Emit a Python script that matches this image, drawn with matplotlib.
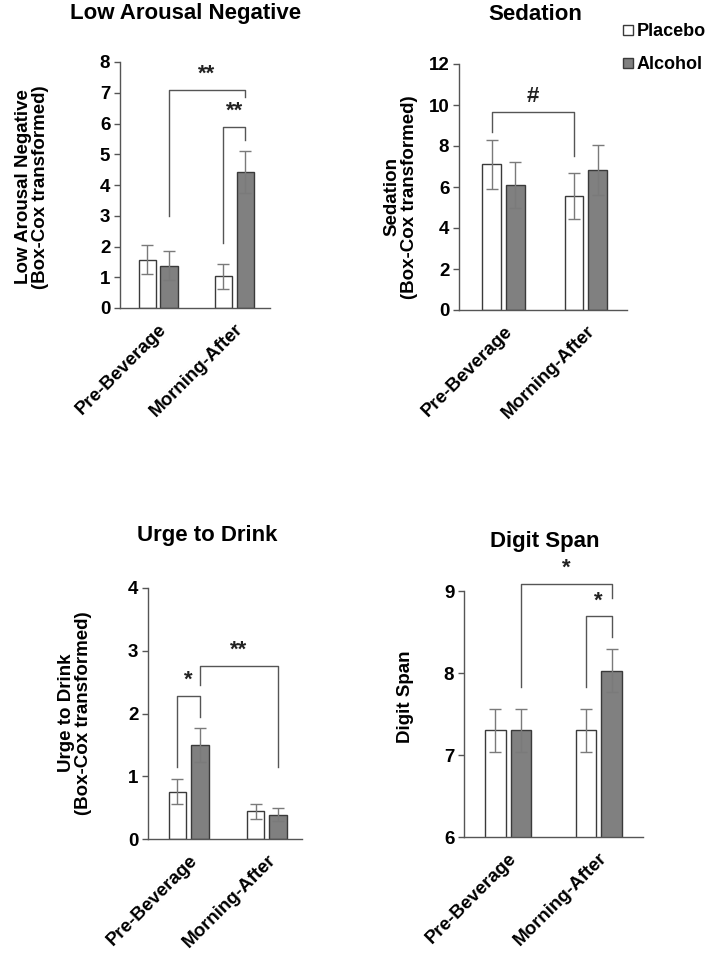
import matplotlib
matplotlib.use("Agg")
import matplotlib.pyplot as plt
from matplotlib.lines import Line2D

plt.rcParams["font.family"] = ["Liberation Sans", "DejaVu Sans"]
plt.rcParams["font.weight"] = "bold"

groups = ["Pre-Beverage", "Morning-After"]
series_names = ["Placebo", "Alcohol"]

lan_placebo = [1.57, 1.03]
lan_placebo_err = [0.47, 0.40]
lan_alcohol = [1.37, 4.42]
lan_alcohol_err = [0.47, 0.68]

sed_placebo = [7.10, 5.55]
sed_placebo_err = [1.18, 1.12]
sed_alcohol = [6.10, 6.85]
sed_alcohol_err = [1.10, 1.22]

urge_placebo = [0.75, 0.44]
urge_placebo_err = [0.20, 0.12]
urge_alcohol = [1.50, 0.39]
urge_alcohol_err = [0.27, 0.10]

ds_placebo = [7.30, 7.30]
ds_placebo_err = [0.26, 0.26]
ds_alcohol = [7.30, 8.03]
ds_alcohol_err = [0.26, 0.26]

# brackets: (group, series) left, (group, series) right, height, left leg end, right leg end, label
lan_brackets = [((0, 1), (1, 1), 7.1, 3.0, 6.85, "**"),
                ((1, 0), (1, 1), 5.9, 2.1, 5.45, "**")]
sed_brackets = [((0, 0), (1, 0), 9.65, 8.7, 7.5, "#")]
urge_brackets = [((0, 0), (0, 1), 2.28, 1.15, 1.95, "*"),
                 ((0, 1), (1, 1), 2.76, 2.45, 1.15, "**")]
ds_brackets = [((0, 1), (1, 1), 9.09, 7.83, 8.92, "*"),
               ((1, 0), (1, 1), 8.69, 7.83, 8.44, "*")]

panels = {
    "Low Arousal Negative": {"data": (lan_placebo, lan_placebo_err, lan_alcohol, lan_alcohol_err),
                             "brackets": lan_brackets,
                             "ylabel": "Low Arousal Negative\n(Box-Cox transformed)",
                             "ylim": (0, 8), "yticks": range(0, 9, 1),
                             "xlim": (-0.5, 1.47),
                             "rect": [120, 62, 270, 308],
                             "title xy": (186, 13), "ylabel xy": (32, 187)},
    "Sedation": {"data": (sed_placebo, sed_placebo_err, sed_alcohol, sed_alcohol_err),
                 "brackets": sed_brackets,
                 "ylabel": "Sedation\n(Box-Cox transformed)",
                 "ylim": (0, 12), "yticks": range(0, 13, 2),
                 "xlim": (-0.54, 1.5),
                 "rect": [459, 64, 627, 310],
                 "title xy": (535, 15), "ylabel xy": (401, 197)},
    "Urge to Drink": {"data": (urge_placebo, urge_placebo_err, urge_alcohol, urge_alcohol_err),
                      "brackets": urge_brackets,
                      "ylabel": "Urge to Drink\n(Box-Cox transformed)",
                      "ylim": (0, 4), "yticks": range(0, 5, 1),
                      "xlim": (-0.52, 1.45),
                      "rect": [148, 588, 302, 839],
                      "title xy": (207, 535), "ylabel xy": (75, 713)},
    "Digit Span": {"data": (ds_placebo, ds_placebo_err, ds_alcohol, ds_alcohol_err),
                   "brackets": ds_brackets,
                   "ylabel": "Digit Span",
                   "ylim": (6, 9), "yticks": range(6, 10, 1),
                   "xlim": (-0.49, 1.49),
                   "rect": [464, 591, 643, 837],
                   "title xy": (545, 541), "ylabel xy": (405, 697)},
}

W, H = 709, 957
bar_width = 0.225
offset = 0.143
edge = "#3a3a3a"
err_color = "#7a7a7a"
line_color = "#555555"
colors = ["white", "#808080"]

fig = plt.figure(figsize=(W / 100, H / 100), dpi=100)

for title, p in panels.items():
    x0, y0, x1, y1 = p["rect"]
    ax = fig.add_axes([x0 / W, 1 - y1 / H, (x1 - x0) / W, (y1 - y0) / H])
    placebo, placebo_err, alcohol, alcohol_err = p["data"]
    xs = range(len(groups))
    for k, (vals, errs) in enumerate([(placebo, placebo_err), (alcohol, alcohol_err)]):
        pos = [x + (2 * k - 1) * offset for x in xs]
        ax.bar(pos, vals, bar_width, bottom=0, color=colors[k], edgecolor=edge,
               linewidth=1.0, label=series_names[k], zorder=2)
        ax.errorbar(pos, vals, yerr=errs, fmt="none", ecolor=err_color,
                    elinewidth=1.0, capsize=4, capthick=1.0, zorder=3)
    for (g0, s0), (g1, s1), h, l0, l1, label in p["brackets"]:
        xa = g0 + (2 * s0 - 1) * offset
        xb = g1 + (2 * s1 - 1) * offset
        ax.plot([xa, xa, xb, xb], [l0, h, h, l1], color=line_color,
                linewidth=1.0, clip_on=False, zorder=4)
        span = p["ylim"][1] - p["ylim"][0]
        ax.text((xa + xb) / 2, h + 0.02 * span, label, ha="center",
                va="bottom", fontsize=16, fontweight="bold", color="#222222")
    ax.set_xlim(*p["xlim"])
    ax.set_ylim(*p["ylim"])
    ax.set_yticks(list(p["yticks"]))
    ax.set_xticks(list(xs))
    ax.set_xticklabels(groups, rotation=45, ha="right", rotation_mode="anchor",
                       fontsize=13.5, fontweight="bold")
    ax.tick_params(axis="x", length=0, pad=9)
    ax.tick_params(axis="y", length=4, width=1.0, color=line_color,
                   labelsize=13.5, pad=3)
    for lab in ax.get_yticklabels():
        lab.set_fontweight("bold")
    for side in ["top", "right"]:
        ax.spines[side].set_visible(False)
    for side in ["left", "bottom"]:
        ax.spines[side].set_color(line_color)
        ax.spines[side].set_linewidth(1.0)
    ax.set_facecolor("none")
    tx, ty = p["title xy"]
    fig.text(tx / W, 1 - ty / H, title, ha="center", va="center",
             fontsize=16, fontweight="bold")
    lx, ly = p["ylabel xy"]
    fig.text(lx / W, 1 - ly / H, p["ylabel"], ha="center", va="center",
             rotation=90, fontsize=13.5, fontweight="bold", linespacing=1.05)

handles = [Line2D([], [], marker="s", linestyle="none", markersize=7.5,
                  markerfacecolor=c, markeredgecolor=edge, markeredgewidth=1.0)
           for c in colors]
fig.legend(handles, series_names, loc="upper left",
           bbox_to_anchor=(613 / W, 1 - 14 / H), frameon=False,
           prop={"size": 13, "weight": "bold"}, handlelength=0.7,
           handletextpad=0.1, labelspacing=0.9, borderpad=0)

fig.savefig("out.png", dpi=100, facecolor="white")
